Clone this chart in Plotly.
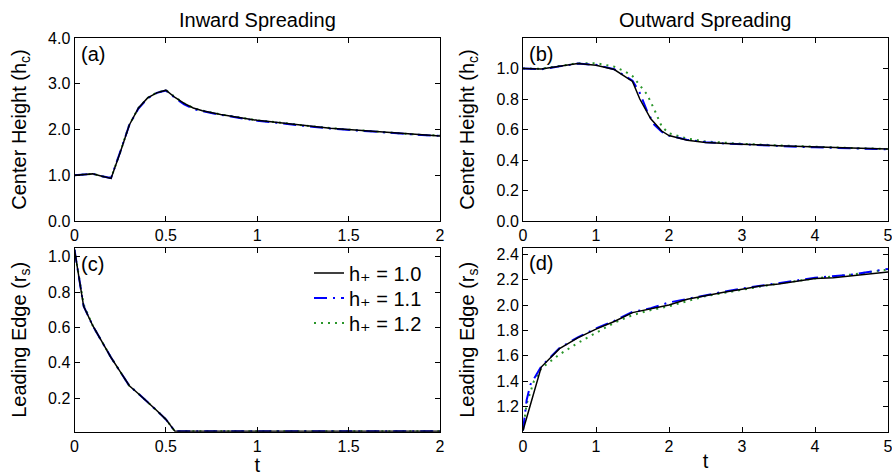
import plotly.graph_objects as go

# ---------------- data ----------------
# Panel (a): inward spreading, center height
t_a = [0, 0.05, 0.1, 0.15, 0.2, 0.25, 0.3, 0.35, 0.4, 0.45, 0.5, 0.55, 0.6, 0.65,
       0.7, 0.8, 0.9, 1.0, 1.1, 1.2, 1.3, 1.4, 1.5, 1.6, 1.7, 1.8, 1.9, 2.0]
a_h10 = [1.00, 1.01, 1.03, 0.98, 0.93, 1.50, 2.10, 2.47, 2.69, 2.80, 2.86, 2.70, 2.57, 2.47,
         2.41, 2.33, 2.26, 2.20, 2.16, 2.11, 2.07, 2.03, 2.00, 1.97, 1.94, 1.91, 1.88, 1.86]
a_h11 = [1.00, 1.01, 1.03, 0.98, 0.94, 1.51, 2.10, 2.46, 2.68, 2.80, 2.85, 2.69, 2.55, 2.45,
         2.40, 2.32, 2.25, 2.19, 2.15, 2.10, 2.06, 2.02, 1.99, 1.96, 1.93, 1.90, 1.88, 1.86]
a_h12 = [1.00, 1.01, 1.03, 0.98, 0.94, 1.50, 2.11, 2.47, 2.69, 2.81, 2.86, 2.71, 2.57, 2.47,
         2.41, 2.33, 2.26, 2.20, 2.16, 2.11, 2.07, 2.03, 2.00, 1.97, 1.94, 1.91, 1.88, 1.87]

# Panel (b): outward spreading, center height
t_b_h10 = [0, 0.25, 0.5, 0.75, 1.0, 1.25, 1.5, 1.6, 1.75, 1.9, 2.0, 2.25, 2.5, 2.75,
           3.0, 3.5, 4.0, 4.5, 5.0]
b_h10 = [1.00, 0.997, 1.015, 1.033, 1.022, 0.993, 0.915, 0.80, 0.67, 0.59, 0.56, 0.53, 0.515, 0.508,
         0.503, 0.494, 0.485, 0.479, 0.472]
t_b_h11 = [0, 0.25, 0.5, 0.75, 1.0, 1.25, 1.5, 1.6, 1.7, 1.8, 1.9, 2.0, 2.25, 2.5, 2.75,
           3.0, 3.5, 4.0, 4.5, 5.0]
b_h11 = [1.00, 0.995, 1.014, 1.032, 1.024, 0.995, 0.92, 0.84, 0.72, 0.63, 0.585, 0.56, 0.532, 0.517, 0.509,
         0.502, 0.492, 0.483, 0.476, 0.470]
t_b_h12 = [0, 0.25, 0.5, 0.75, 1.0, 1.25, 1.4, 1.5, 1.6, 1.7, 1.8, 1.9, 2.0, 2.25, 2.5, 2.75,
           3.0, 3.5, 4.0, 4.5, 5.0]
b_h12 = [1.00, 0.998, 1.016, 1.035, 1.035, 1.012, 0.98, 0.95, 0.89, 0.83, 0.73, 0.62, 0.575, 0.54, 0.522, 0.512,
         0.506, 0.496, 0.486, 0.479, 0.472]

# Panel (c): inward spreading, leading edge
t_c = [0, 0.05, 0.1, 0.15, 0.2, 0.25, 0.3, 0.35, 0.4, 0.45, 0.5, 0.55, 1.0, 1.5, 2.0]
c_h10 = [1.04, 0.72, 0.61, 0.52, 0.43, 0.35, 0.27, 0.225, 0.18, 0.13, 0.08, 0.012, 0.012, 0.012, 0.012]
c_h11 = [1.04, 0.72, 0.61, 0.52, 0.43, 0.35, 0.27, 0.225, 0.18, 0.13, 0.08, 0.012, 0.012, 0.012, 0.012]
c_h12 = [1.04, 0.73, 0.61, 0.52, 0.43, 0.35, 0.27, 0.225, 0.18, 0.13, 0.08, 0.012, 0.012, 0.012, 0.012]

# Panel (d): outward spreading, leading edge
t_d_h10 = [0, 0.25, 0.5, 0.75, 1.0, 1.25, 1.5, 1.75, 2.0, 2.25, 2.5, 2.75, 3.0, 3.25,
           3.5, 3.75, 4.0, 4.25, 4.5, 4.75, 5.0]
d_h10 = [1.01, 1.51, 1.655, 1.74, 1.81, 1.87, 1.94, 1.97, 2.00, 2.045, 2.075, 2.10, 2.125, 2.15,
         2.165, 2.19, 2.21, 2.215, 2.23, 2.245, 2.26]
t_d_h11 = [0, 0.05, 0.1, 0.2, 0.25, 0.5, 0.75, 1.0, 1.25, 1.5, 1.75, 2.0, 2.25, 2.5, 2.75,
           3.0, 3.5, 4.0, 4.5, 5.0]
d_h11 = [1.01, 1.25, 1.37, 1.47, 1.515, 1.66, 1.745, 1.815, 1.875, 1.945, 1.975, 2.02, 2.05, 2.08, 2.105,
         2.13, 2.17, 2.215, 2.24, 2.285]
t_d_h12 = [0, 0.05, 0.15, 0.25, 0.5, 0.75, 1.0, 1.25, 1.5, 1.75, 2.0, 2.5, 3.0, 3.5, 4.0, 4.5, 5.0]
d_h12 = [1.01, 1.22, 1.40, 1.50, 1.61, 1.70, 1.78, 1.86, 1.92, 1.96, 1.99, 2.07, 2.12, 2.17, 2.21, 2.24, 2.28]

series_names = ["h\u208a = 1.0", "h\u208a = 1.1", "h\u208a = 1.2"]

# ---------------- figure ----------------
W, H = 892, 476
FONT = "Liberation Sans, Arial, Helvetica, DejaVu Sans, sans-serif"

styles = [
    dict(color="#000000", width=1.5, dash="solid"),
    dict(color="#0000ff", width=2, dash="13px,6px,2px,6px"),
    dict(color="#2a962a", width=2, dash="2px,5px"),
]
legend_ids = ["legend", "legend2", "legend3"]

fig = go.Figure()

panels = [
    ("x", "y", [(t_a, a_h10), (t_a, a_h11), (t_a, a_h12)]),
    ("x2", "y2", [(t_b_h10, b_h10), (t_b_h11, b_h11), (t_b_h12, b_h12)]),
    ("x3", "y3", [(t_c, c_h10), (t_c, c_h11), (t_c, c_h12)]),
    ("x4", "y4", [(t_d_h10, d_h10), (t_d_h11, d_h11), (t_d_h12, d_h12)]),
]

# draw order: green dotted, blue dash-dot, black solid on top
for pi, (xa, ya, data) in enumerate(panels):
    for si in [2, 1, 0]:
        xs, ys = data[si]
        fig.add_trace(go.Scatter(
            x=xs, y=ys, mode="lines", xaxis=xa, yaxis=ya,
            name=series_names[si], line=styles[si],
            showlegend=(pi == 2), legend=legend_ids[si],
        ))

def px_x(p):
    return p / W

def px_y(p):
    return 1 - p / H

left_dom = [px_x(74.5), px_x(440)]
right_dom = [px_x(523), px_x(888)]
top_dom = [px_y(221), px_y(38)]
bot_dom = [px_y(431.7), px_y(248)]

common = dict(
    showline=True, linecolor="black", linewidth=1, mirror="ticks",
    ticks="inside", ticklen=5, tickcolor="black", tickwidth=1,
    showgrid=False, zeroline=False, automargin=False,
    ticklabeloverflow="allow",
    tickfont=dict(family=FONT, size=16, color="black"),
)

xt2 = dict(tickvals=[0, 0.5, 1, 1.5, 2], ticktext=["0", "0.5", "1", "1.5", "2"])
xt5 = dict(tickvals=[0, 1, 2, 3, 4, 5], ticktext=["0", "1", "2", "3", "4", "5"])
title_font = dict(family=FONT, size=20, color="black")

fig.update_layout(
    template="none",
    xaxis=dict(domain=left_dom, anchor="y", range=[0, 2], **xt2, **common),
    yaxis=dict(domain=top_dom, anchor="x", range=[0, 4],
               tickvals=[0, 1, 2, 3, 4], ticktext=["0.0", "1.0", "2.0", "3.0", "4.0"],
               title=dict(text="Center Height (h<sub>c</sub>)", font=title_font, standoff=16), **common),
    xaxis2=dict(domain=right_dom, anchor="y2", range=[0, 5], **xt5, **common),
    yaxis2=dict(domain=top_dom, anchor="x2", range=[0, 1.2],
                tickvals=[0, 0.2, 0.4, 0.6, 0.8, 1.0],
                ticktext=["0.0", "0.2", "0.4", "0.6", "0.8", "1.0"],
                title=dict(text="Center Height (h<sub>c</sub>)", font=title_font, standoff=16), **common),
    xaxis3=dict(domain=left_dom, anchor="y3", range=[0, 2], **xt2,
                title=dict(text="t", font=title_font, standoff=0), **common),
    yaxis3=dict(domain=bot_dom, anchor="x3", range=[0.01, 1.05],
                tickvals=[0.2, 0.4, 0.6, 0.8, 1.0],
                ticktext=["0.2", "0.4", "0.6", "0.8", "1.0"],
                title=dict(text="Leading Edge (r<sub>s</sub>)", font=title_font, standoff=16), **common),
    xaxis4=dict(domain=right_dom, anchor="y4", range=[0, 5], **xt5,
                title=dict(text="t", font=title_font, standoff=0), **common),
    yaxis4=dict(domain=bot_dom, anchor="x4", range=[1.0, 2.45],
                tickvals=[1.2, 1.4, 1.6, 1.8, 2.0, 2.2, 2.4],
                ticktext=["1.2", "1.4", "1.6", "1.8", "2.0", "2.2", "2.4"],
                title=dict(text="Leading Edge (r<sub>s</sub>)", font=title_font, standoff=16), **common),
)

annotations = [
    dict(text="Inward Spreading", x=px_x(257), y=px_y(20)),
    dict(text="Outward Spreading", x=px_x(705), y=px_y(20)),
]
ann = [dict(a, xref="paper", yref="paper", showarrow=False, xanchor="center", yanchor="middle",
            font=dict(family=FONT, size=20, color="black")) for a in annotations]
for lab, xp, yp in [("(a)", 79, 54), ("(b)", 527, 54), ("(c)", 79, 264), ("(d)", 527, 263)]:
    ann.append(dict(text=lab, x=px_x(xp), y=px_y(yp), xref="paper", yref="paper",
                    showarrow=False, xanchor="left", yanchor="middle",
                    font=dict(family=FONT, size=20, color="black")))

legend_common = dict(xanchor="left", yanchor="middle", bgcolor="rgba(0,0,0,0)",
                     font=dict(family=FONT, size=20, color="black"))
fig.update_layout(
    width=W, height=H,
    margin=dict(l=0, r=0, t=0, b=0),
    paper_bgcolor="white", plot_bgcolor="white",
    font=dict(family=FONT, size=16, color="black"),
    annotations=ann,
    legend=dict(x=px_x(309), y=px_y(273), **legend_common),
    legend2=dict(x=px_x(309), y=px_y(298), **legend_common),
    legend3=dict(x=px_x(309), y=px_y(323), **legend_common),
)

fig.write_html("out.html", config={"displayModeBar": False},
               post_script="document.body.style.margin='0';document.body.style.overflow='hidden';")
